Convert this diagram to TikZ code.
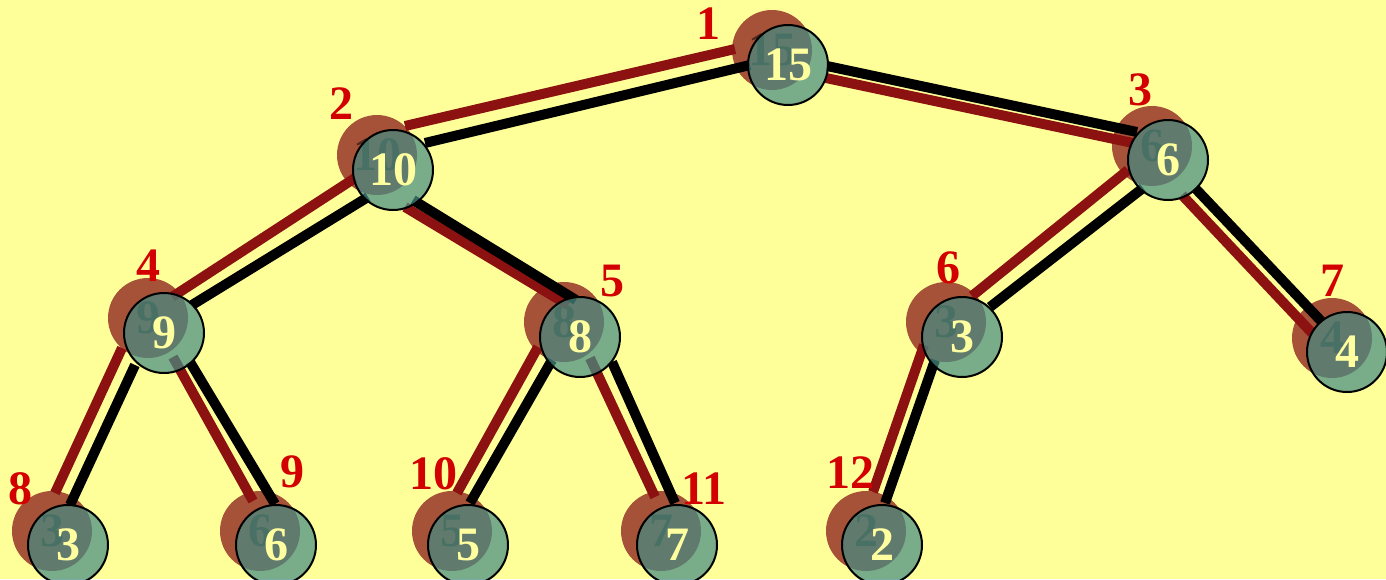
\documentclass[tikz,border=0pt]{standalone}
\usepackage{fontspec}
\setmainfont{Liberation Serif}
\usetikzlibrary{calc}
\definecolor{bg}{RGB}{255,255,153}
\definecolor{shadowc}{RGB}{166,82,56}
\definecolor{greenc}{RGB}{70,140,130}
\definecolor{redline}{RGB}{140,18,18}
\definecolor{labelred}{RGB}{210,0,0}
\definecolor{numc}{RGB}{255,255,160}
\begin{document}
\begin{tikzpicture}[x=0.5pt,y=-0.5pt,
  numfont/.style={font=\fontsize{24}{24}\selectfont\bfseries},
  shadownode/.style={circle, fill=shadowc, minimum size=40pt, inner sep=0pt, text=black, text opacity=0.5, numfont},
  gnode/.style={circle, draw=black, line width=1pt, fill=greenc, fill opacity=0.72, text opacity=1, text=numc, minimum size=40pt, inner sep=0pt, numfont},
  rline/.style={draw=redline, line width=5pt},
  bline/.style={draw=black, line width=5pt},
  lab/.style={text=labelred, inner sep=0pt, numfont}]
\useasboundingbox (0,0) rectangle (1386,579);
\fill[bg] (0,0) rectangle (1386,579);
\clip (0,0) rectangle (1386,579);
% centres
\coordinate (c15) at (788,65);
\coordinate (c10) at (393,170);
\coordinate (c6) at (1168,160);
\coordinate (c9) at (164,333);
\coordinate (c8) at (580,337);
\coordinate (c3) at (962,337);
\coordinate (c4) at (1347,352);
\coordinate (cl3) at (68,545);
\coordinate (cl6) at (276,545);
\coordinate (cl5) at (468,545);
\coordinate (cl7) at (677,545);
\coordinate (cl2) at (882,545);
% shadows
\node[shadownode] (s15) at ($(c15)+(-16,-15)$) {15};
\node[shadownode] (s10) at ($(c10)+(-16,-15)$) {10};
\node[shadownode] (s6) at ($(c6)+(-16,-14)$) {6};
\node[shadownode] (s9) at ($(c9)+(-16,-15)$) {9};
\node[shadownode] (s8) at ($(c8)+(-16,-15)$) {8};
\node[shadownode] (s3) at ($(c3)+(-16,-15)$) {3};
\node[shadownode] (s4) at ($(c4)+(-15,-14)$) {4};
\node[shadownode] (sl3) at ($(cl3)+(-16,-14)$) {3};
\node[shadownode] (sl6) at ($(cl6)+(-16,-14)$) {6};
\node[shadownode] (sl5) at ($(cl5)+(-16,-14)$) {5};
\node[shadownode] (sl7) at ($(cl7)+(-16,-14)$) {7};
\node[shadownode] (sl2) at ($(cl2)+(-16,-14)$) {2};
% red lines
\draw[rline] ($(c10)+(12,-44)$) -- ($(c15)+(-53,-16)$);
\draw[rline] ($(c15)+(38,13)$) -- ($(c6)+(-35,-17)$);
\draw[rline] ($(c10)+(-38,8)$) -- ($(c9)+(8,-36)$);
\draw[rline] ($(c10)+(12,37)$) -- ($(c8)+(-12,-32)$);
\draw[rline] ($(c6)+(-40,10)$) -- ($(c3)+(10,-41)$);
\draw[rline] ($(c6)+(14,35)$) -- ($(c4)+(-35,-19)$);
\draw[rline] ($(c9)+(-42,15)$) -- ($(cl3)+(-13,-52)$);
\draw[rline] ($(c9)+(9,24)$) -- ($(cl6)+(-23,-44)$);
\draw[rline] ($(c8)+(-42,10)$) -- ($(cl5)+(-11,-52)$);
\draw[rline] ($(c8)+(10,21)$) -- ($(cl7)+(-22,-48)$);
\draw[rline] ($(c3)+(-38,8)$) -- ($(cl2)+(-9,-53)$);
% black lines
\draw[bline] ($(c10)+(32,-27)$) -- ($(c15)+(-38,0)$);
\draw[bline] ($(c15)+(39,1)$) -- ($(c6)+(-31,-28)$);
\draw[bline] ($(c10)+(-25,27)$) -- ($(c9)+(28,-28)$);
\draw[bline] ($(c10)+(20,30)$) -- ($(c8)+(-4,-37)$);
\draw[bline] ($(c6)+(-25,28)$) -- ($(c3)+(28,-30)$);
\draw[bline] ($(c6)+(27,28)$) -- ($(c4)+(-25,-30)$);
\draw[bline] ($(c9)+(-29,32)$) -- ($(cl3)+(2,-40)$);
\draw[bline] ($(c9)+(26,29)$) -- ($(cl6)+(-1,-41)$);
\draw[bline] ($(c8)+(-28,23)$) -- ($(cl5)+(2,-42)$);
\draw[bline] ($(c8)+(32,25)$) -- ($(cl7)+(-2,-42)$);
\draw[bline] ($(c3)+(-27,23)$) -- ($(cl2)+(3,-42)$);
% green nodes
\node[gnode] (g15) at (c15) {15};
\node[gnode] (g10) at (c10) {10};
\node[gnode] (g6) at (c6) {6};
\node[gnode] (g9) at (c9) {9};
\node[gnode] (g8) at (c8) {8};
\node[gnode] (g3) at (c3) {3};
\node[gnode] (g4) at (c4) {4};
\node[gnode] (gl3) at (cl3) {3};
\node[gnode] (gl6) at (cl6) {6};
\node[gnode] (gl5) at (cl5) {5};
\node[gnode] (gl7) at (cl7) {7};
\node[gnode] (gl2) at (cl2) {2};
% labels
\node[lab] (l1) at (708,24) {1};
\node[lab] (l2) at (341,104) {2};
\node[lab] (l3) at (1140,90) {3};
\node[lab] (l4) at (148,266) {4};
\node[lab] (l5) at (612,281) {5};
\node[lab] (l6) at (948,268) {6};
\node[lab] (l7) at (1332,281) {7};
\node[lab] (l8) at (21,489) {8};
\node[lab] (l9) at (292,472) {9};
\node[lab] (l10) at (433,474) {10};
\node[lab] (l11) at (704,489) {11};
\node[lab] (l12) at (850,473) {12};
\end{tikzpicture}
\end{document}
